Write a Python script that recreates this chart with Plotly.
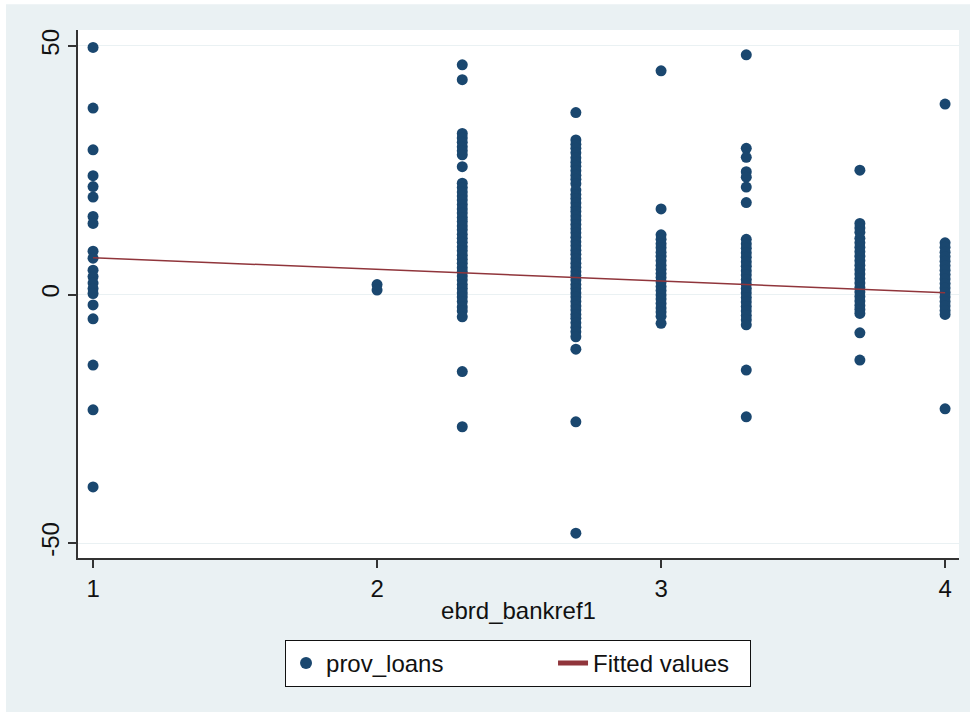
import plotly.graph_objects as go

# prov_loans observations, grouped by ebrd_bankref1 level
ref_levels = [1.0, 2.0, 2.3, 2.7, 3.0, 3.3, 3.7, 4.0]

loans_at_1_0 = [49.7, 37.5, 29.1, 23.9, 21.7, 19.6, 15.7, 14.3, 8.7, 7.3,
                4.9, 3.6, 2.3, 1.2, 0.2, -2.1, -4.9, -14.2, -23.2, -38.7]
loans_at_2_0 = [2.0, 0.9]
loans_at_2_3 = [46.2, 43.2, 32.4, 31.5, 30.6, 29.7, 28.9, 28.1, 25.7,
                22.4, 21.5, 20.6, 19.8, 19.0, 18.1, 17.2, 16.4, 15.5, 14.7,
                13.8, 13.0, 12.1, 11.3, 10.5, 9.6, 8.8, 7.9, 7.1, 6.3, 5.4,
                4.6, 3.7, 2.9, 2.0, 1.2, 0.3, -0.5, -1.4, -2.5, -3.3, -4.5,
                -15.5, -26.6]
loans_at_2_7 = [36.6, 31.1, 30.2, 29.4, 28.5, 27.5, 26.6, 25.8, 24.9, 24.0,
                23.2, 22.3, 21.0, 20.1, 19.3, 18.4, 17.5, 16.7, 15.8, 15.0,
                14.1, 13.2, 12.4, 11.5, 10.6, 9.8, 8.9, 8.1, 7.2, 6.3, 5.5,
                4.6, 3.8, 2.9, 2.0, 1.2, 0.3, -0.5, -1.4, -2.3, -3.1, -4.0,
                -4.8, -5.7, -6.6, -7.5, -8.5, -11.0, -25.6, -48.0]
loans_at_3_0 = [45.0, 17.2, 12.0, 11.1, 10.2, 9.4, 8.5, 7.7, 6.8, 5.9, 5.1,
                4.2, 3.4, 2.5, 1.6, 0.8, -0.1, -0.9, -1.8, -2.7, -3.5, -4.4,
                -5.8]
loans_at_3_3 = [48.2, 29.4, 27.6, 24.7, 23.6, 21.6, 18.5, 11.1, 10.2, 9.3,
                8.4, 7.5, 6.6, 5.7, 4.8, 3.9, 3.0, 2.1, 1.2, 0.3, -0.6, -1.5,
                -2.4, -3.3, -4.2, -5.1, -6.1, -15.2, -24.6]
loans_at_3_7 = [25.0, 14.3, 13.4, 12.5, 11.3, 10.4, 9.5, 8.6, 7.7, 6.8, 5.9,
                5.0, 4.1, 3.2, 2.3, 1.4, 0.5, -0.4, -1.3, -2.2, -3.0, -3.8,
                -7.7, -13.2]
loans_at_4_0 = [38.3, 10.4, 9.5, 8.5, 7.6, 6.7, 5.8, 4.9, 4.0, 3.1, 2.2, 1.3,
                0.4, -0.5, -1.4, -2.3, -3.2, -4.0, -23.0]

# linear fit of prov_loans on ebrd_bankref1, evaluated at each level
fitted_values = [7.4, 5.05, 4.35, 3.4, 2.7, 2.0, 1.06, 0.35]

x_ticks = [1, 2, 3, 4]
y_ticks = [-50, 0, 50]

groups = [loans_at_1_0, loans_at_2_0, loans_at_2_3, loans_at_2_7,
          loans_at_3_0, loans_at_3_3, loans_at_3_7, loans_at_4_0]
xs, ys = [], []
for lvl, vals in zip(ref_levels, groups):
    xs.extend([lvl] * len(vals))
    ys.extend(vals)

NAVY = "#1A476F"
MAROON = "#90353B"
BG = "#EAF1F3"
FONT = "Arial, 'Liberation Sans', sans-serif"
TXT = "#111111"
FS = 24

fig = go.Figure()
fig.add_trace(go.Scatter(
    x=xs, y=ys, mode="markers", name="prov_loans",
    marker=dict(color=NAVY, size=11, line=dict(width=0)),
))
fig.add_trace(go.Scatter(
    x=ref_levels, y=fitted_values, mode="lines", name="Fitted values",
    line=dict(color=MAROON, width=1.5), legendwidth=152,
))

fig.update_layout(
    width=975, height=715,
    margin=dict(l=78, r=16, t=30, b=157),
    paper_bgcolor=BG, plot_bgcolor="white",
    font=dict(family=FONT, size=FS, color=TXT),
    showlegend=True,
    legend=dict(
        orientation="h", x=0.235, xanchor="left", y=-0.155, yanchor="top",
        bgcolor="white", bordercolor=TXT, borderwidth=1,
        entrywidth=222, entrywidthmode="pixels",
        font=dict(family=FONT, size=FS, color=TXT),
        itemsizing="constant",
    ),
    xaxis=dict(
        range=[0.947, 4.049], tickvals=x_ticks, ticktext=[str(v) for v in x_ticks],
        showgrid=False, zeroline=False, showline=True, linecolor="#333333",
        linewidth=1.5, ticks="outside", ticklen=8, tickwidth=1.5,
        tickcolor="#333333", tickfont=dict(size=FS),
        title=dict(text="ebrd_bankref1", standoff=2,
                   font=dict(family=FONT, size=FS, color=TXT)),
    ),
    yaxis=dict(
        range=[-53.0, 53.2], tickvals=y_ticks, ticktext=[str(v) for v in y_ticks],
        showgrid=True, gridcolor=BG, gridwidth=1.2, zeroline=False,
        showline=True, linecolor="#333333", linewidth=1.5, ticks="outside",
        ticklen=8, tickwidth=1.5, tickcolor="#333333", tickangle=-90,
        tickfont=dict(size=FS),
    ),
)

# thin white border around the graph region
for x0, y0, x1, y1 in [(-0.09, -0.31, -0.0817, 1.07), (1.0125, -0.31, 1.03, 1.07),
                       (-0.09, 1.049, 1.03, 1.07), (-0.09, -0.31, 1.03, -0.2917)]:
    fig.add_shape(type="rect", xref="paper", yref="paper", x0=x0, y0=y0,
                  x1=x1, y1=y1, fillcolor="white", line=dict(width=0),
                  layer="below")

fig.write_html("out.html")
